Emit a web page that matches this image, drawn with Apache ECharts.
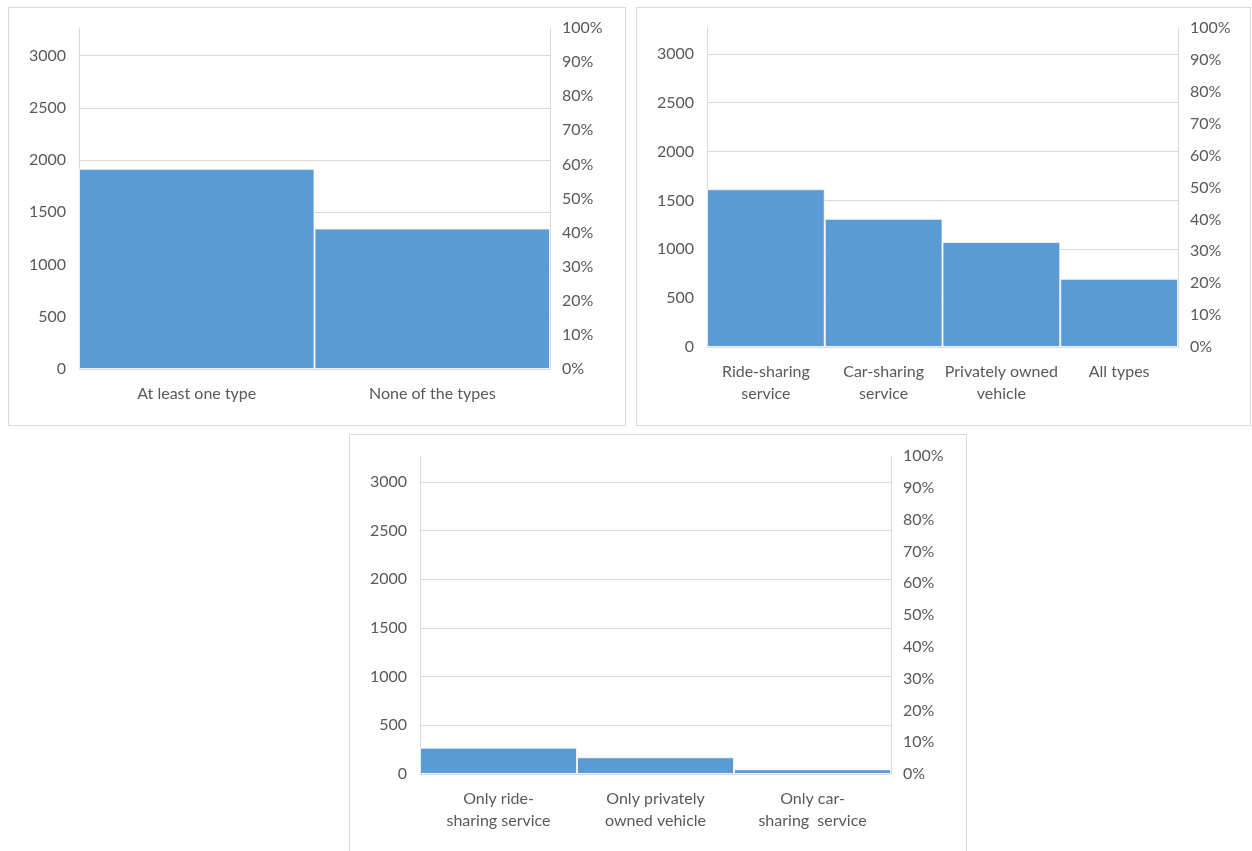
<!DOCTYPE html>
<html>
<head>
<meta charset="utf-8">
<script src="https://cdn.jsdelivr.net/npm/echarts@6/dist/echarts.min.js"></script>
<style>
  html, body { margin: 0; padding: 0; background: #ffffff; }
  body { width: 1252px; height: 851px; position: relative; overflow: hidden; }
  .panel { position: absolute; outline: 1px solid #d9d9d9; outline-offset: -1px; }
</style>
</head>
<body>
<div id="p1" class="panel" style="left:8px; top:7px; width:618px; height:419px;"></div>
<div id="p2" class="panel" style="left:636px; top:7px; width:615px; height:419px;"></div>
<div id="p3" class="panel" style="left:349px; top:434px; width:618px; height:419px;"></div>
<script>
// Respondent counts by group; left axis spans the full sample, right axis its share.
const sampleTotal = 3265;
const countInterval = 500;
const shareInterval = 10;

const groupCategories = ['At least one type', 'None of the types'];
const groupCounts = [1917, 1345];

const typeCategories = ['Ride-sharing\nservice', 'Car-sharing\nservice', 'Privately owned\nvehicle', 'All types'];
const typeCounts = [1615, 1312, 1075, 698];

const onlyCategories = ['Only ride-\nsharing service', 'Only privately\nowned vehicle', 'Only car-\nsharing  service'];
const onlyCounts = [270, 172, 48];

const textColor = '#595959';
const lineColor = '#d9d9d9';
const barColor = '#5b9bd5';
const fontFamily = 'Lato, "Open Sans", sans-serif';
const fontSize = 16;

function buildOption(categories, counts, grid) {
  return {
    animation: false,
    textStyle: { fontFamily: fontFamily },
    grid: grid,
    xAxis: {
      type: 'category',
      data: categories,
      boundaryGap: true,
      axisLine: { show: true, lineStyle: { color: lineColor, width: 1 } },
      axisTick: { show: false },
      axisLabel: {
        color: textColor, fontSize: fontSize, fontFamily: fontFamily,
        margin: 14, lineHeight: 22, interval: 0
      },
      splitLine: { show: false }
    },
    yAxis: [
      {
        type: 'value',
        min: 0,
        max: sampleTotal,
        interval: countInterval,
        axisLine: { show: true, lineStyle: { color: lineColor, width: 1 } },
        axisTick: { show: false },
        axisLabel: {
          color: textColor, fontSize: fontSize, fontFamily: fontFamily,
          margin: 13, showMaxLabel: false,
          formatter: function (v) { return String(v); }
        },
        splitLine: {
          show: true, showMaxLine: false,
          lineStyle: { color: lineColor, width: 1 }
        }
      },
      {
        type: 'value',
        min: 0,
        max: 100,
        interval: shareInterval,
        position: 'right',
        axisLine: { show: true, lineStyle: { color: lineColor, width: 1 } },
        axisTick: { show: false },
        axisLabel: {
          color: textColor, fontSize: fontSize, fontFamily: fontFamily,
          margin: 12, formatter: '{value}%'
        },
        splitLine: { show: false }
      }
    ],
    series: [{
      type: 'bar',
      yAxisIndex: 0,
      data: counts,
      barCategoryGap: '0%',
      itemStyle: {
        color: barColor,
        borderColor: 'rgba(255,255,255,0.75)',
        borderWidth: 1
      }
    }]
  };
}

const charts = [
  ['p1', groupCategories, groupCounts, { left: 71, right: 76, top: 21, bottom: 57 }],
  ['p2', typeCategories, typeCounts, { left: 71, right: 73, top: 21, bottom: 79 }],
  ['p3', onlyCategories, onlyCounts, { left: 71, right: 76, top: 22, bottom: 79 }]
];

charts.forEach(function (c) {
  const chart = echarts.init(document.getElementById(c[0]), null, { renderer: 'canvas' });
  chart.setOption(buildOption(c[1], c[2], c[3]));
});
</script>
</body>
</html>
